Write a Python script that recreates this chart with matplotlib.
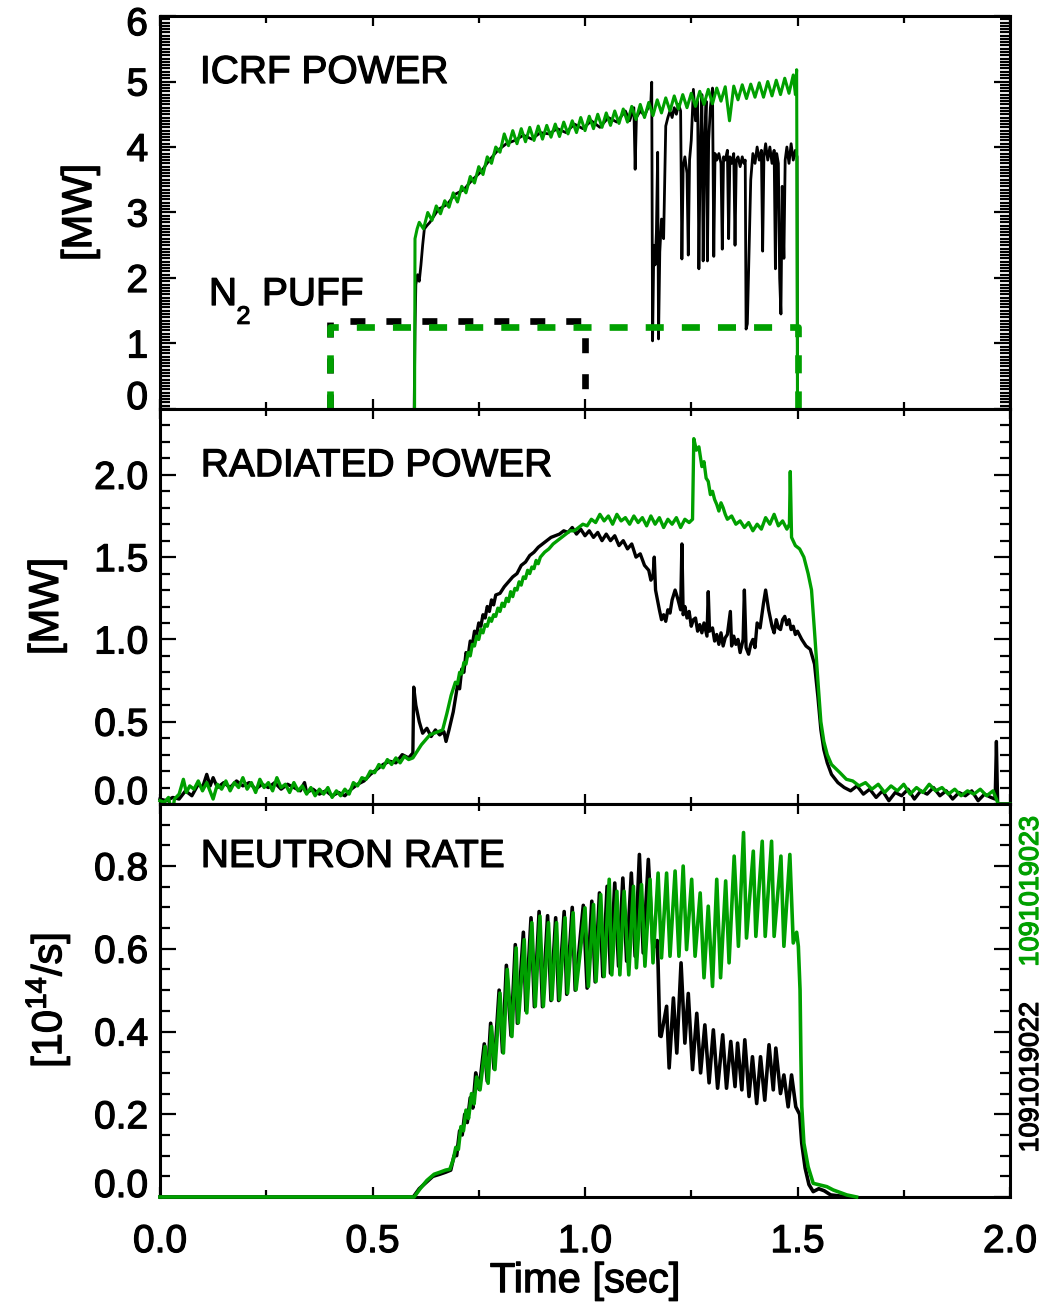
import matplotlib
matplotlib.use("Agg")
import matplotlib.pyplot as plt
import matplotlib.transforms as mtransforms
import matplotlib.patheffects as pe
from matplotlib.text import Text
from matplotlib.ticker import MultipleLocator, FuncFormatter

# ── Style ─────────────────────────────────────────────────────────────────────
GREEN = "#00a000"
BLACK = "#000000"
FS = 28

plt.rcParams.update({
    "font.family": "Liberation Sans",
    "font.size": FS,
    "mathtext.fontset": "custom",
    "mathtext.rm": "Liberation Sans",
    "mathtext.it": "Liberation Sans:italic",
    "mathtext.bf": "Liberation Sans:bold",
    "axes.linewidth": 2.2,
    "lines.scale_dashes": False,
})

# ── DATA (time [s], value) ───────────────────────────────────────────────────
# ICRF power [MW], shot 1091019022 (black)
ICRF_022 = [
    (0.598, 0.0), (0.600, 1.2), (0.602, 1.9), (0.606, 2.05), (0.610, 1.95),
    (0.614, 2.2), (0.618, 2.5), (0.622, 2.75), (0.628, 2.8), (0.635, 2.85), (0.655, 3.05),
    (0.675, 3.12), (0.695, 3.28), (0.715, 3.35), (0.735, 3.50), (0.755, 3.62), (0.775, 3.80),
    (0.795, 3.95), (0.815, 4.05), (0.835, 4.10), (0.855, 4.18), (0.875, 4.12), (0.895, 4.22),
    (0.915, 4.20), (0.935, 4.28), (0.955, 4.22), (0.975, 4.35), (0.995, 4.28), (1.015, 4.40),
    (1.035, 4.30), (1.055, 4.45), (1.075, 4.38), (1.095, 4.55), (1.105, 4.40), (1.115, 4.60),
    (1.118, 3.66), (1.121, 4.45), (1.130, 4.55), (1.140, 4.48), (1.150, 4.62), (1.155, 4.70),
    (1.157, 4.99), (1.159, 1.04), (1.162, 2.50), (1.165, 2.20), (1.168, 2.70), (1.171, 3.92),
    (1.173, 1.07), (1.176, 2.40), (1.180, 2.90), (1.185, 2.60), (1.190, 4.32), (1.195, 4.45),
    (1.200, 4.55), (1.205, 4.45), (1.210, 4.60), (1.215, 4.50), (1.220, 4.65), (1.225, 4.55),
    (1.228, 2.29), (1.231, 3.70), (1.235, 3.85), (1.240, 3.60), (1.243, 2.35), (1.246, 3.80),
    (1.250, 4.10), (1.255, 4.88), (1.260, 4.40), (1.265, 4.70), (1.268, 2.14), (1.271, 3.90),
    (1.275, 4.80), (1.278, 2.26), (1.281, 4.00), (1.285, 4.70), (1.288, 2.26), (1.291, 4.10),
    (1.295, 4.60), (1.300, 4.90), (1.303, 2.33), (1.306, 3.90), (1.310, 3.80), (1.315, 3.90),
    (1.320, 3.75), (1.323, 2.44), (1.326, 3.85), (1.330, 3.80), (1.335, 3.95), (1.338, 2.60),
    (1.341, 3.85), (1.345, 3.75), (1.350, 3.90), (1.353, 2.50), (1.356, 3.80), (1.360, 3.85),
    (1.365, 3.70), (1.370, 3.85), (1.374, 3.75), (1.377, 3.80), (1.379, 1.22), (1.382, 1.30),
    (1.385, 2.10), (1.390, 3.50), (1.395, 3.90), (1.400, 3.75), (1.405, 4.00), (1.410, 3.80),
    (1.415, 3.95), (1.418, 2.41), (1.421, 3.85), (1.425, 4.05), (1.430, 3.80), (1.435, 4.00),
    (1.440, 3.75), (1.445, 3.95), (1.448, 2.14), (1.451, 3.90), (1.455, 3.75), (1.458, 2.00),
    (1.461, 1.45), (1.464, 3.40), (1.468, 2.30), (1.471, 3.80), (1.475, 4.00), (1.480, 3.75),
    (1.485, 4.05), (1.490, 3.80), (1.495, 3.95), (1.499, 3.85), (1.500, 0.0),
]

# ICRF power [MW], shot 1091019023 (green)
ICRF_023 = [
    (0.599, 0.0), (0.600, 2.60), (0.605, 2.75), (0.610, 2.85), (0.620, 2.75), (0.630, 3.00),
    (0.640, 2.88), (0.650, 3.10), (0.660, 2.98), (0.670, 3.18), (0.680, 3.08), (0.690, 3.30),
    (0.700, 3.16), (0.710, 3.40), (0.720, 3.30), (0.730, 3.55), (0.740, 3.45), (0.750, 3.70),
    (0.760, 3.58), (0.770, 3.85), (0.780, 3.75), (0.790, 4.00), (0.800, 3.92), (0.810, 4.20),
    (0.820, 4.02), (0.830, 4.25), (0.840, 4.05), (0.850, 4.28), (0.860, 4.08), (0.870, 4.30),
    (0.880, 4.10), (0.890, 4.32), (0.900, 4.12), (0.910, 4.33), (0.920, 4.15), (0.930, 4.35),
    (0.940, 4.16), (0.950, 4.38), (0.960, 4.20), (0.970, 4.40), (0.980, 4.22), (0.990, 4.45),
    (1.000, 4.25), (1.010, 4.47), (1.020, 4.28), (1.030, 4.50), (1.040, 4.30), (1.050, 4.52),
    (1.060, 4.33), (1.070, 4.55), (1.080, 4.36), (1.090, 4.58), (1.100, 4.38), (1.110, 4.62),
    (1.120, 4.42), (1.130, 4.65), (1.140, 4.45), (1.150, 4.68), (1.160, 4.48), (1.170, 4.72),
    (1.180, 4.52), (1.190, 4.75), (1.200, 4.55), (1.210, 4.78), (1.220, 4.58), (1.230, 4.80),
    (1.240, 4.60), (1.250, 4.82), (1.260, 4.62), (1.270, 4.85), (1.280, 4.65), (1.290, 4.88),
    (1.300, 4.66), (1.310, 4.90), (1.320, 4.70), (1.330, 4.92), (1.340, 4.40), (1.350, 4.93),
    (1.360, 4.72), (1.370, 4.95), (1.380, 4.74), (1.390, 4.96), (1.400, 4.76), (1.410, 4.98),
    (1.420, 4.76), (1.430, 5.00), (1.440, 4.78), (1.450, 5.02), (1.460, 4.80), (1.470, 5.05),
    (1.480, 4.82), (1.490, 5.10), (1.495, 4.80), (1.498, 5.18), (1.500, 0.0),
]

# N2 puff request (dashed), value in the MW axis units
PUFF_022_T = [0.4, 0.4, 1.0, 1.0]
PUFF_022_V = [0.0, 1.35, 1.35, 0.0]
PUFF_023_T = [0.4, 0.4, 1.5, 1.5]
PUFF_023_V = [0.0, 1.25, 1.25, 0.0]

# Radiated power [MW], shot 1091019022 (black)
PRAD_022 = [
    (0.000, 0.03), (0.015, 0.02), (0.030, 0.04), (0.045, 0.03), (0.060, 0.08), (0.075, 0.05),
    (0.090, 0.12), (0.100, 0.10), (0.110, 0.18), (0.118, 0.11), (0.125, 0.16), (0.135, 0.10),
    (0.150, 0.13), (0.165, 0.10), (0.180, 0.14), (0.195, 0.11), (0.210, 0.13), (0.225, 0.09),
    (0.240, 0.12), (0.255, 0.10), (0.270, 0.13), (0.285, 0.09), (0.300, 0.12), (0.315, 0.10),
    (0.330, 0.08), (0.340, 0.13), (0.345, 0.07), (0.360, 0.09), (0.375, 0.06), (0.390, 0.08),
    (0.405, 0.05), (0.420, 0.07), (0.435, 0.05), (0.450, 0.09), (0.465, 0.12), (0.480, 0.14),
    (0.495, 0.18), (0.510, 0.21), (0.525, 0.24), (0.540, 0.26), (0.555, 0.25), (0.570, 0.30),
    (0.585, 0.28), (0.595, 0.31), (0.597, 0.71), (0.602, 0.60), (0.610, 0.50), (0.618, 0.43),
    (0.628, 0.46), (0.638, 0.41), (0.648, 0.45), (0.658, 0.42), (0.668, 0.44), (0.673, 0.38),
    (0.680, 0.45), (0.690, 0.56), (0.700, 0.72), (0.705, 0.70), (0.710, 0.82), (0.715, 0.80),
    (0.720, 0.92), (0.725, 0.90), (0.730, 0.99), (0.735, 0.97), (0.740, 1.05), (0.745, 1.03),
    (0.750, 1.10), (0.755, 1.08), (0.760, 1.15), (0.765, 1.13), (0.770, 1.20), (0.775, 1.17),
    (0.780, 1.24), (0.785, 1.21), (0.790, 1.27), (0.800, 1.28), (0.810, 1.32), (0.820, 1.35),
    (0.830, 1.38), (0.840, 1.40), (0.850, 1.45), (0.860, 1.47), (0.870, 1.51), (0.880, 1.53),
    (0.890, 1.56), (0.900, 1.58), (0.910, 1.60), (0.920, 1.62), (0.930, 1.63), (0.940, 1.64),
    (0.950, 1.66), (0.960, 1.65), (0.970, 1.68), (0.980, 1.64), (0.990, 1.67), (1.000, 1.63),
    (1.010, 1.66), (1.020, 1.62), (1.030, 1.65), (1.040, 1.60), (1.050, 1.64), (1.060, 1.60),
    (1.070, 1.63), (1.080, 1.57), (1.090, 1.60), (1.100, 1.55), (1.110, 1.58), (1.120, 1.50),
    (1.130, 1.52), (1.140, 1.45), (1.150, 1.42), (1.155, 1.36), (1.160, 1.38), (1.163, 1.50),
    (1.166, 1.30), (1.175, 1.18), (1.180, 1.12), (1.185, 1.15), (1.190, 1.11), (1.195, 1.18),
    (1.200, 1.16), (1.205, 1.24), (1.212, 1.30), (1.218, 1.25), (1.225, 1.18), (1.228, 1.58),
    (1.231, 1.15), (1.235, 1.20), (1.240, 1.13), (1.245, 1.17), (1.250, 1.08), (1.255, 1.12),
    (1.260, 1.13), (1.265, 1.05), (1.270, 1.09), (1.275, 1.04), (1.280, 1.10), (1.287, 1.02),
    (1.290, 1.29), (1.293, 1.05), (1.300, 1.07), (1.305, 0.99), (1.310, 1.03), (1.315, 0.97),
    (1.320, 1.04), (1.325, 0.96), (1.330, 1.01), (1.335, 1.03), (1.342, 1.17), (1.345, 0.96),
    (1.350, 1.02), (1.355, 0.97), (1.360, 1.00), (1.365, 0.92), (1.372, 1.00), (1.375, 1.30),
    (1.379, 0.95), (1.385, 0.91), (1.390, 0.97), (1.395, 1.00), (1.400, 0.95), (1.405, 1.10),
    (1.412, 1.07), (1.420, 1.22), (1.425, 1.30), (1.432, 1.18), (1.440, 1.08), (1.445, 1.04),
    (1.450, 1.12), (1.455, 1.07), (1.460, 1.06), (1.465, 1.12), (1.470, 1.14), (1.475, 1.09),
    (1.480, 1.12), (1.485, 1.06), (1.490, 1.08), (1.495, 1.03), (1.500, 1.05), (1.510, 1.00),
    (1.520, 0.96), (1.530, 0.94), (1.540, 0.85), (1.548, 0.65), (1.555, 0.45), (1.562, 0.33),
    (1.570, 0.25), (1.580, 0.18), (1.595, 0.13), (1.610, 0.10), (1.625, 0.08), (1.640, 0.11),
    (1.655, 0.06), (1.670, 0.09), (1.685, 0.04), (1.700, 0.08), (1.715, 0.02), (1.730, 0.07),
    (1.745, 0.05), (1.760, 0.09), (1.775, 0.03), (1.790, 0.08), (1.805, 0.06), (1.820, 0.10),
    (1.835, 0.05), (1.850, 0.08), (1.865, 0.03), (1.880, 0.07), (1.895, 0.05), (1.910, 0.08),
    (1.925, 0.02), (1.940, 0.06), (1.955, 0.04), (1.965, 0.03), (1.968, 0.38), (1.971, 0.00),
    (2.000, 0.00),
]

# Radiated power [MW], shot 1091019023 (green)
PRAD_023 = [
    (0.000, 0.02), (0.010, 0.01), (0.020, 0.04), (0.028, -0.07), (0.034, 0.03), (0.045, 0.06),
    (0.055, 0.15), (0.062, 0.07), (0.070, 0.11), (0.080, 0.09), (0.090, 0.14), (0.100, 0.08),
    (0.110, 0.13), (0.125, 0.03), (0.135, 0.12), (0.145, 0.09), (0.155, 0.14), (0.165, 0.08),
    (0.175, 0.13), (0.185, 0.10), (0.195, 0.16), (0.205, 0.09), (0.215, 0.13), (0.225, 0.07),
    (0.235, 0.15), (0.245, 0.10), (0.255, 0.13), (0.265, 0.08), (0.275, 0.16), (0.285, 0.10),
    (0.295, 0.12), (0.305, 0.07), (0.315, 0.13), (0.325, 0.08), (0.335, 0.11), (0.345, 0.06),
    (0.355, 0.10), (0.365, 0.05), (0.375, 0.09), (0.385, 0.06), (0.395, 0.10), (0.405, 0.04),
    (0.415, 0.08), (0.425, 0.05), (0.435, 0.09), (0.445, 0.06), (0.455, 0.13), (0.465, 0.11),
    (0.475, 0.16), (0.485, 0.15), (0.495, 0.20), (0.505, 0.19), (0.515, 0.24), (0.525, 0.22),
    (0.535, 0.27), (0.545, 0.24), (0.555, 0.28), (0.565, 0.25), (0.575, 0.29), (0.585, 0.27),
    (0.595, 0.28), (0.605, 0.32), (0.615, 0.36), (0.625, 0.39), (0.635, 0.42), (0.645, 0.43),
    (0.655, 0.44), (0.665, 0.45), (0.675, 0.55), (0.685, 0.66), (0.695, 0.74), (0.700, 0.73),
    (0.705, 0.80), (0.710, 0.79), (0.715, 0.86), (0.720, 0.85), (0.725, 0.92), (0.730, 0.90),
    (0.735, 0.97), (0.740, 0.96), (0.745, 1.02), (0.750, 1.00), (0.755, 1.06), (0.760, 1.04),
    (0.765, 1.09), (0.770, 1.08), (0.775, 1.13), (0.780, 1.11), (0.785, 1.15), (0.790, 1.14),
    (0.795, 1.19), (0.800, 1.17), (0.805, 1.22), (0.810, 1.20), (0.815, 1.25), (0.820, 1.23),
    (0.825, 1.29), (0.830, 1.26), (0.835, 1.31), (0.840, 1.30), (0.845, 1.35), (0.850, 1.33),
    (0.855, 1.38), (0.860, 1.37), (0.865, 1.42), (0.870, 1.40), (0.875, 1.44), (0.880, 1.43),
    (0.885, 1.48), (0.890, 1.46), (0.895, 1.50), (0.905, 1.53), (0.915, 1.55), (0.925, 1.58),
    (0.935, 1.60), (0.945, 1.62), (0.955, 1.64), (0.965, 1.66), (0.975, 1.66), (0.985, 1.68),
    (0.995, 1.70), (1.005, 1.69), (1.015, 1.73), (1.025, 1.71), (1.035, 1.76), (1.045, 1.72),
    (1.055, 1.75), (1.065, 1.70), (1.075, 1.76), (1.085, 1.72), (1.095, 1.74), (1.105, 1.70),
    (1.115, 1.75), (1.125, 1.71), (1.135, 1.74), (1.145, 1.69), (1.155, 1.75), (1.165, 1.70),
    (1.175, 1.74), (1.185, 1.68), (1.195, 1.73), (1.205, 1.70), (1.215, 1.74), (1.225, 1.68),
    (1.235, 1.73), (1.245, 1.71), (1.253, 1.73), (1.256, 2.22), (1.262, 2.15), (1.268, 2.17),
    (1.275, 2.05), (1.280, 2.08), (1.285, 1.98), (1.290, 1.96), (1.295, 1.88), (1.300, 1.90),
    (1.305, 1.85), (1.310, 1.82), (1.315, 1.78), (1.320, 1.83), (1.325, 1.80), (1.330, 1.76),
    (1.335, 1.73), (1.345, 1.75), (1.355, 1.70), (1.365, 1.72), (1.375, 1.68), (1.385, 1.71),
    (1.395, 1.66), (1.405, 1.70), (1.415, 1.67), (1.425, 1.74), (1.435, 1.70), (1.445, 1.76),
    (1.455, 1.69), (1.465, 1.72), (1.475, 1.67), (1.481, 1.70), (1.483, 2.02), (1.486, 1.62),
    (1.495, 1.57), (1.505, 1.55), (1.515, 1.50), (1.525, 1.40), (1.533, 1.30), (1.540, 1.05),
    (1.548, 0.75), (1.555, 0.50), (1.562, 0.38), (1.570, 0.30), (1.580, 0.24), (1.600, 0.19),
    (1.615, 0.15), (1.630, 0.14), (1.645, 0.11), (1.660, 0.13), (1.675, 0.09), (1.690, 0.12),
    (1.705, 0.07), (1.720, 0.11), (1.735, 0.08), (1.750, 0.12), (1.765, 0.06), (1.780, 0.10),
    (1.795, 0.07), (1.810, 0.12), (1.825, 0.08), (1.840, 0.10), (1.855, 0.06), (1.870, 0.09),
    (1.885, 0.05), (1.900, 0.08), (1.915, 0.06), (1.930, 0.09), (1.945, 0.05), (1.960, 0.08),
    (1.968, 0.03), (1.972, 0.00), (2.000, 0.00),
]

# Neutron rate [1e14/s], shot 1091019022 (black)
NEUT_022 = [
    (0.000, 0.0), (0.596, 0.0), (0.610, 0.02), (0.626, 0.035), (0.642, 0.05), (0.658, 0.055),
    (0.672, 0.06), (0.684, 0.065), (0.692, 0.10), (0.698, 0.10), (0.705, 0.16), (0.711, 0.15),
    (0.717, 0.20), (0.723, 0.18), (0.730, 0.24), (0.736, 0.215), (0.743, 0.30), (0.751, 0.26),
    (0.763, 0.37), (0.770, 0.28), (0.778, 0.42), (0.786, 0.31), (0.798, 0.50), (0.806, 0.35),
    (0.815, 0.56), (0.826, 0.39), (0.836, 0.61), (0.841, 0.42), (0.855, 0.64), (0.861, 0.45),
    (0.873, 0.675), (0.881, 0.46), (0.892, 0.69), (0.900, 0.46), (0.912, 0.68), (0.920, 0.475),
    (0.931, 0.675), (0.938, 0.475), (0.951, 0.69), (0.957, 0.49), (0.970, 0.70), (0.977, 0.50),
    (0.996, 0.705), (1.005, 0.505), (1.016, 0.715), (1.024, 0.52), (1.034, 0.735), (1.042, 0.533),
    (1.052, 0.751), (1.060, 0.541), (1.070, 0.759), (1.079, 0.558), (1.089, 0.771), (1.098, 0.570),
    (1.109, 0.783), (1.118, 0.582), (1.128, 0.828), (1.137, 0.590), (1.149, 0.816), (1.160, 0.60),
    (1.170, 0.62), (1.172, 0.56), (1.176, 0.39), (1.179, 0.388), (1.192, 0.461), (1.198, 0.312),
    (1.208, 0.481), (1.216, 0.348), (1.226, 0.566), (1.235, 0.372), (1.243, 0.492), (1.253, 0.308),
    (1.263, 0.444), (1.272, 0.300), (1.282, 0.416), (1.292, 0.276), (1.302, 0.404), (1.312, 0.263),
    (1.324, 0.392), (1.333, 0.263), (1.343, 0.376), (1.353, 0.267), (1.359, 0.372), (1.369, 0.259),
    (1.376, 0.380), (1.386, 0.243), (1.394, 0.339), (1.404, 0.226), (1.413, 0.339), (1.423, 0.234),
    (1.433, 0.368), (1.443, 0.259), (1.449, 0.360), (1.460, 0.250), (1.468, 0.295), (1.478, 0.218),
    (1.486, 0.295), (1.496, 0.218), (1.505, 0.20), (1.510, 0.13), (1.518, 0.07), (1.527, 0.03),
    (1.537, 0.013), (1.550, 0.02), (1.563, 0.015), (1.578, 0.005), (1.620, 0.0),
]

# Neutron rate [1e14/s], shot 1091019023 (green)
NEUT_023 = [
    (0.000, 0.0), (0.598, 0.0), (0.612, 0.02), (0.628, 0.04), (0.645, 0.055), (0.659, 0.06),
    (0.672, 0.065), (0.682, 0.067), (0.690, 0.09), (0.696, 0.12), (0.702, 0.115), (0.708, 0.17),
    (0.714, 0.16), (0.720, 0.21), (0.726, 0.19), (0.733, 0.25), (0.739, 0.225), (0.745, 0.29),
    (0.753, 0.259), (0.765, 0.364), (0.772, 0.275), (0.780, 0.412), (0.788, 0.308), (0.800, 0.493),
    (0.808, 0.348), (0.817, 0.550), (0.828, 0.388), (0.838, 0.602), (0.843, 0.421), (0.857, 0.622),
    (0.863, 0.445), (0.875, 0.663), (0.883, 0.461), (0.894, 0.679), (0.902, 0.461), (0.914, 0.663),
    (0.922, 0.477), (0.933, 0.663), (0.940, 0.477), (0.953, 0.675), (0.959, 0.493), (0.972, 0.687),
    (0.979, 0.501), (1.000, 0.699), (1.008, 0.509), (1.020, 0.707), (1.026, 0.521), (1.037, 0.731),
    (1.045, 0.533), (1.057, 0.768), (1.063, 0.537), (1.075, 0.739), (1.082, 0.537), (1.092, 0.739),
    (1.103, 0.537), (1.114, 0.751), (1.121, 0.554), (1.133, 0.755), (1.141, 0.558), (1.153, 0.768),
    (1.160, 0.566), (1.172, 0.783), (1.180, 0.578), (1.192, 0.783), (1.200, 0.582), (1.212, 0.788),
    (1.221, 0.582), (1.231, 0.800), (1.239, 0.598), (1.251, 0.768), (1.259, 0.582), (1.271, 0.735),
    (1.280, 0.530), (1.290, 0.703), (1.300, 0.509), (1.310, 0.768), (1.319, 0.530), (1.331, 0.764),
    (1.339, 0.566), (1.351, 0.824), (1.361, 0.606), (1.373, 0.881), (1.380, 0.626), (1.396, 0.836),
    (1.402, 0.630), (1.417, 0.860), (1.424, 0.630), (1.439, 0.860), (1.445, 0.630), (1.461, 0.824),
    (1.468, 0.606), (1.482, 0.828), (1.490, 0.614), (1.498, 0.640), (1.502, 0.606), (1.506, 0.50),
    (1.508, 0.34), (1.510, 0.219), (1.515, 0.13), (1.525, 0.073), (1.537, 0.033), (1.553, 0.029),
    (1.569, 0.025), (1.584, 0.017), (1.616, 0.005), (1.639, 0.0),
]

SHOT_022 = "1091019022"
SHOT_023 = "1091019023"
# ───────────────────────────────────────────────────────────────────────────────

W, H = 1050, 1303
X0, X1 = 160, 1010          # axes left/right in pixels
PANEL_Y = [(16, 409), (409, 804), (804, 1197)]   # top/bottom pixel rows


def split(pairs):
    t, v = zip(*pairs)
    return list(t), list(v)


def style_axis(ax, ylim, ymajor, yminor, last):
    ax.set_xlim(0, 2)
    ax.set_ylim(*ylim)
    ax.xaxis.set_major_locator(MultipleLocator(0.5))
    ax.xaxis.set_minor_locator(MultipleLocator(0.25))
    ax.yaxis.set_major_locator(MultipleLocator(ymajor))
    ax.yaxis.set_minor_locator(MultipleLocator(yminor))
    ax.tick_params(which="both", direction="in", top=True, right=True, width=1.6,
                   labelsize=FS)
    ax.tick_params(axis="x", which="major", length=7.5, pad=19.5)
    ax.tick_params(axis="x", which="minor", length=5)
    ax.tick_params(axis="y", which="major", length=11.5, pad=8.5)
    ax.tick_params(axis="y", which="minor", length=7)
    if not last:
        ax.tick_params(axis="x", labelbottom=False)
    else:
        ax.xaxis.set_major_formatter(FuncFormatter(lambda v, p: f"{v:.1f}"))


def main():
    fig = plt.figure(figsize=(W / 100, H / 100), dpi=100)
    axes = []
    for top, bot in PANEL_Y:
        axes.append(fig.add_axes([X0 / W, 1 - bot / H, (X1 - X0) / W, (bot - top) / H]))
    ax1, ax2, ax3 = axes

    # ── ICRF power ──
    t, v = split(ICRF_022)
    ax1.plot(t, v, color=BLACK, lw=2.0)
    t, v = split(ICRF_023)
    ax1.plot(t, v, color=GREEN, lw=2.2)
    ax1.plot(PUFF_022_T, PUFF_022_V, color=BLACK, lw=4.8, dashes=(10.8, 15.1),
             clip_on=False)
    ax1.plot(PUFF_023_T, PUFF_023_V, color=GREEN, lw=4.8, dashes=(13, 13),
             clip_on=False)
    style_axis(ax1, (0, 6), 1, 0.05, False)
    ax1.yaxis.set_major_formatter(
        FuncFormatter(lambda v, p: "" if v in (0, 6) else f"{v:.0f}"))

    # ── Radiated power ──
    t, v = split(PRAD_022)
    ax2.plot(t, v, color=BLACK, lw=2.4, clip_on=False, zorder=3)
    t, v = split(PRAD_023)
    ax2.plot(t, v, color=GREEN, lw=2.4, clip_on=False, zorder=3)
    style_axis(ax2, (0, 2.4), 0.5, 0.1, False)
    ax2.yaxis.set_major_formatter(
        FuncFormatter(lambda v, p: "" if abs(v) < 1e-9 else f"{v:.1f}"))

    # ── Neutron rate ──
    t, v = split(NEUT_022)
    ax3.plot(t, v, color=BLACK, lw=2.6, clip_on=False, zorder=3)
    t, v = split(NEUT_023)
    ax3.plot(t, v, color=GREEN, lw=2.6, clip_on=False, zorder=3)
    style_axis(ax3, (0, 0.95), 0.2, 0.05, True)
    ax3.yaxis.set_major_formatter(
        FuncFormatter(lambda v, p: "" if abs(v) < 1e-9 else f"{v:.1f}"))

    # End labels nudged inside the panel, as in the original
    for ax, txt in ((ax1, "0"), (ax2, "0.0"), (ax3, "0.0")):
        tr = mtransforms.offset_copy(ax.get_yaxis_transform(), fig=fig, x=-12, y=0,
                                     units="dots")
        ax.text(0, 0, txt, transform=tr, ha="right", va="baseline", fontsize=FS)
    tr = mtransforms.offset_copy(ax1.get_yaxis_transform(), fig=fig, x=-12, y=0,
                                 units="dots")
    ax1.text(0, 5.86, "6", transform=tr, ha="right", va="center", fontsize=FS)

    # Panel titles
    ax1.text(0.047, 0.8295, "ICRF POWER", transform=ax1.transAxes, va="baseline")
    ax2.text(0.048, 0.830, "RADIATED POWER", transform=ax2.transAxes, va="baseline")
    ax3.text(0.048, 0.840, "NEUTRON RATE", transform=ax3.transAxes, va="baseline")

    # N2 PUFF annotation
    ax1.text(0.0576, 0.2646, "N", transform=ax1.transAxes, va="baseline")
    ax1.text(0.0900, 0.217, "2", transform=ax1.transAxes, va="baseline", fontsize=18)
    ax1.text(0.120, 0.2646, "PUFF", transform=ax1.transAxes, va="baseline")

    # Y labels
    ax1.text(-0.094, 0.5, "[MW]", transform=ax1.transAxes, rotation=90,
             ha="center", va="center", fontsize=30)
    ax2.text(-0.133, 0.5, "[MW]", transform=ax2.transAxes, rotation=90,
             ha="center", va="center", fontsize=30)
    ax3.text(-0.132, 0.5, r"[10$^{14}$/s]", transform=ax3.transAxes, rotation=90,
             ha="center", va="center", fontsize=30)

    # X label
    ax3.text(0.5, -0.214, "Time [sec]", transform=ax3.transAxes, ha="center",
             va="center", fontsize=30)

    # Shot numbers
    fig.text(1031 / W, 1 - 891 / H, SHOT_023, color=GREEN, rotation=90,
             ha="center", va="center", fontsize=19.5)
    fig.text(1031 / W, 1 - 1077 / H, SHOT_022, color=BLACK, rotation=90,
             ha="center", va="center", fontsize=19.5)

    # slightly heavier strokes on all text, like the original print font
    for txt in fig.findobj(Text):
        txt.set_path_effects([pe.withStroke(linewidth=0.9, foreground=txt.get_color())])

    fig.savefig("out.png", dpi=100, facecolor="white")


if __name__ == "__main__":
    main()
